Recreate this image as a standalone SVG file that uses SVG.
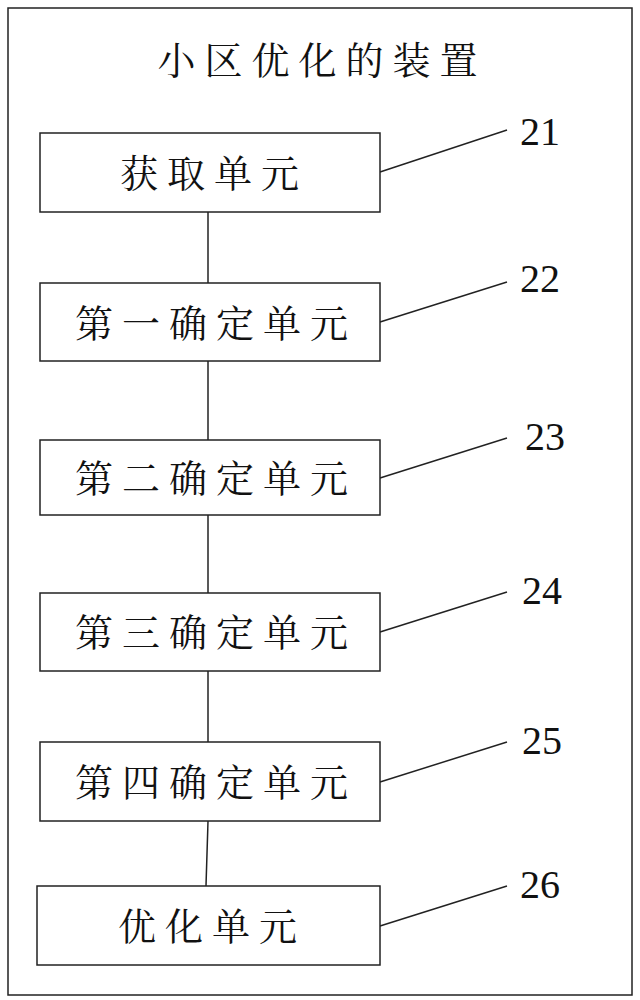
<svg xmlns="http://www.w3.org/2000/svg" width="640" height="1000" viewBox="0 0 640 1000">
<style>
.b{fill:#fff;stroke:#222;stroke-width:1.5}
.t{font-family:"Liberation Serif","Noto Serif CJK SC","Noto Sans CJK SC",serif;font-size:38px;letter-spacing:9px;fill:#111;text-anchor:middle}
.n{font-family:"Liberation Serif",serif;font-size:40px;fill:#111}
.l{stroke:#222;stroke-width:1.5;fill:none}
</style>
<rect x="0" y="0" width="640" height="1000" fill="#fff"/>
<rect x="8" y="8" width="624" height="987" class="b"/>
<text x="322" y="74" class="t" font-size="40">小区优化的装置</text>
<g id="connectors">
<line x1="208" y1="212" x2="208" y2="283" class="l"/>
<line x1="208" y1="361" x2="208" y2="440" class="l"/>
<line x1="208" y1="515" x2="208" y2="593" class="l"/>
<line x1="208" y1="671" x2="208" y2="742" class="l"/>
<line x1="208" y1="821" x2="206" y2="886" class="l"/>
<line x1="380" y1="172" x2="507" y2="130" class="l"/>
<line x1="380" y1="322" x2="507" y2="282" class="l"/>
<line x1="380" y1="478" x2="507" y2="438" class="l"/>
<line x1="380" y1="632" x2="507" y2="592" class="l"/>
<line x1="380" y1="782" x2="507" y2="742" class="l"/>
<line x1="380" y1="926" x2="507" y2="886" class="l"/>
</g>
<g id="n21"><rect x="40" y="133" width="340" height="79" class="b"/><text x="214" y="187" class="t">获取单元</text><text x="520" y="145" class="n">21</text></g>
<g id="n22"><rect x="40" y="283" width="340" height="78" class="b"/><text x="216" y="337" class="t">第一确定单元</text><text x="520" y="292" class="n">22</text></g>
<g id="n23"><rect x="40" y="440" width="340" height="75" class="b"/><text x="216" y="492" class="t">第二确定单元</text><text x="525" y="450" class="n">23</text></g>
<g id="n24"><rect x="40" y="593" width="340" height="78" class="b"/><text x="216" y="646" class="t">第三确定单元</text><text x="522" y="604" class="n">24</text></g>
<g id="n25"><rect x="40" y="742" width="340" height="79" class="b"/><text x="216" y="796" class="t">第四确定单元</text><text x="522" y="754" class="n">25</text></g>
<g id="n26"><rect x="37" y="886" width="343" height="79" class="b"/><text x="212" y="940" class="t">优化单元</text><text x="520" y="898" class="n">26</text></g>
</svg>
